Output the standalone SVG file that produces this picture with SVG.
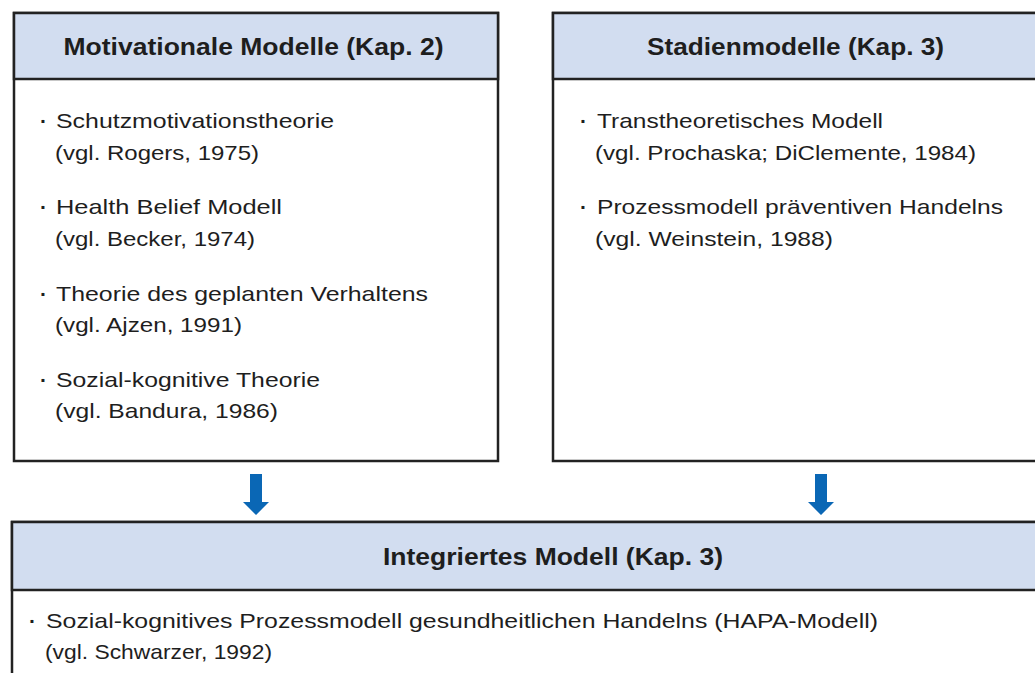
<svg xmlns="http://www.w3.org/2000/svg" width="1035" height="673" viewBox="0 0 1035 673">
<style>
.box{fill:#ffffff;stroke:#222222;stroke-width:2.5}
.hdr{fill:#d2ddf0;stroke:#222222;stroke-width:2.5}
.title{font-family:"Liberation Sans",Arial,sans-serif;font-size:23px;font-weight:bold;fill:#1e1e1e;text-anchor:middle}
.txt{font-family:"Liberation Sans",Arial,sans-serif;font-size:21px;fill:#1e1e1e}
.bul{font-family:"Liberation Sans",Arial,sans-serif;font-size:21px;font-weight:bold;fill:#1e1e1e}
.arrow{fill:#0a67b5}
</style>
<rect width="1035" height="673" fill="#ffffff"/>
<g id="node-motivational">
<rect class="box" x="14" y="13" width="484" height="448"/>
<rect class="hdr" x="14" y="13" width="484" height="66"/>
<text class="title" x="253.5" y="55" textLength="380" lengthAdjust="spacingAndGlyphs">Motivationale Modelle (Kap. 2)</text>
<text class="bul" x="40" y="128">·</text>
<text class="txt" x="56" y="128" textLength="278" lengthAdjust="spacingAndGlyphs">Schutzmotivationstheorie</text>
<text class="txt" x="55" y="160" textLength="204" lengthAdjust="spacingAndGlyphs">(vgl. Rogers, 1975)</text>
<text class="bul" x="40" y="214">·</text>
<text class="txt" x="56" y="214" textLength="226" lengthAdjust="spacingAndGlyphs">Health Belief Modell</text>
<text class="txt" x="55" y="246" textLength="200" lengthAdjust="spacingAndGlyphs">(vgl. Becker, 1974)</text>
<text class="bul" x="40" y="301">·</text>
<text class="txt" x="56" y="301" textLength="372" lengthAdjust="spacingAndGlyphs">Theorie des geplanten Verhaltens</text>
<text class="txt" x="55" y="332" textLength="187" lengthAdjust="spacingAndGlyphs">(vgl. Ajzen, 1991)</text>
<text class="bul" x="40" y="387">·</text>
<text class="txt" x="56" y="387" textLength="264" lengthAdjust="spacingAndGlyphs">Sozial-kognitive Theorie</text>
<text class="txt" x="55" y="418" textLength="223" lengthAdjust="spacingAndGlyphs">(vgl. Bandura, 1986)</text>
</g>
<g id="node-stadien">
<rect class="box" x="553" y="13" width="500" height="448"/>
<rect class="hdr" x="553" y="13" width="500" height="66"/>
<text class="title" x="795.5" y="55" textLength="297" lengthAdjust="spacingAndGlyphs">Stadienmodelle (Kap. 3)</text>
<text class="bul" x="580" y="128">·</text>
<text class="txt" x="597" y="128" textLength="286" lengthAdjust="spacingAndGlyphs">Transtheoretisches Modell</text>
<text class="txt" x="595" y="160" textLength="381" lengthAdjust="spacingAndGlyphs">(vgl. Prochaska; DiClemente, 1984)</text>
<text class="bul" x="580" y="214">·</text>
<text class="txt" x="597" y="214" textLength="406" lengthAdjust="spacingAndGlyphs">Prozessmodell präventiven Handelns</text>
<text class="txt" x="595" y="246" textLength="238" lengthAdjust="spacingAndGlyphs">(vgl. Weinstein, 1988)</text>
</g>
<g id="node-integriert">
<rect class="box" x="12" y="522" width="1100" height="200"/>
<rect class="hdr" x="12" y="522" width="1100" height="68"/>
<text class="title" x="553" y="565" textLength="340" lengthAdjust="spacingAndGlyphs">Integriertes Modell (Kap. 3)</text>
<text class="bul" x="29" y="628">·</text>
<text class="txt" x="46" y="628" textLength="832" lengthAdjust="spacingAndGlyphs">Sozial-kognitives Prozessmodell gesundheitlichen Handelns (HAPA-Modell)</text>
<text class="txt" x="45" y="659" textLength="227" lengthAdjust="spacingAndGlyphs">(vgl. Schwarzer, 1992)</text>
</g>
<g id="connectors">
<polygon class="arrow" points="250,474 262,474 262,502 269,502 256,515 243,502 250,502"/>
<polygon class="arrow" points="815,474 827,474 827,502 834,502 821,515 808,502 815,502"/>
</g>
</svg>
